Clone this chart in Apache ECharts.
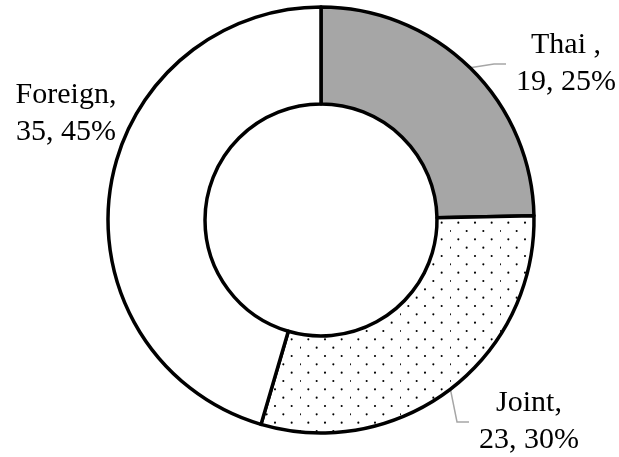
<!DOCTYPE html>
<html>
<head>
<meta charset="utf-8">
<script src="https://cdn.jsdelivr.net/npm/echarts@6/dist/echarts.min.js"></script>
<style>
  html, body { margin: 0; padding: 0; background: #ffffff; }
  #chart { width: 619px; height: 457px; }
</style>
</head>
<body>
<div id="chart"></div>
<script>
// Ownership groups and their counts
const categories = ['Thai ', 'Joint', 'Foreign'];
const counts = [19, 23, 35];

// Slice fills: solid grey, dotted, plain white
const sliceFills = ['#a6a6a6', 'dots', '#ffffff'];

// Where each label block sits (centre x, middle y)
const labelAnchors = [[561, 64], [524, 422], [61, 114]];
// Foreign's label sits next to its slice without a leader line
const showLeader = [true, true, false];

// Staggered dot texture for the Joint slice
function makeDotPattern() {
  const step = 50 / 3;
  const c = document.createElement('canvas');
  c.width = 50; c.height = 50;
  const ctx = c.getContext('2d');
  ctx.fillStyle = '#ffffff';
  ctx.fillRect(0, 0, 50, 50);
  ctx.fillStyle = '#000000';
  for (let i = 0; i < 3; i++) {
    for (let j = 0; j < 3; j++) {
      ctx.beginPath();
      ctx.arc(step / 2 + i * step, 6 + j * step, 1.05, 0, Math.PI * 2);
      ctx.fill();
      ctx.beginPath();
      ctx.arc(i * step, 6 + step / 2 + j * step, 1.05, 0, Math.PI * 2);
      ctx.fill();
    }
  }
  return { image: c, repeat: 'repeat' };
}
const dotPattern = makeDotPattern();

const pieData = categories.map((name, i) => ({
  name: name,
  value: counts[i],
  itemStyle: { color: sliceFills[i] === 'dots' ? dotPattern : sliceFills[i] },
  labelLine: { show: showLeader[i] }
}));

const chart = echarts.init(document.getElementById('chart'), null, { renderer: 'canvas' });
chart.setOption({
  animation: false,
  backgroundColor: '#ffffff',
  series: [{
    type: 'pie',
    center: [321, 220],
    radius: [116, 213],
    startAngle: 90,
    clockwise: true,
    avoidLabelOverlap: false,
    silent: true,
    emphasis: { disabled: true },
    itemStyle: { borderColor: '#000000', borderWidth: 3.5 },
    label: {
      show: true,
      position: 'outside',
      fontFamily: '"Liberation Serif", "Times New Roman", serif',
      fontSize: 30,
      lineHeight: 37,
      color: '#000000',
      align: 'center',
      padding: [0, 0, 0, 10],
      backgroundColor: 'rgba(255,255,255,0)',
      formatter: p => p.name + ',\n' + p.value + ', ' + Math.round(p.percent) + '%'
    },
    labelLine: {
      show: true,
      length: 10,
      length2: 12,
      smooth: false,
      lineStyle: { color: '#a6a6a6', width: 1.5 }
    },
    labelLayout: p => ({
      x: labelAnchors[p.dataIndex][0],
      y: labelAnchors[p.dataIndex][1],
      align: 'center',
      verticalAlign: 'middle'
    }),
    data: pieData
  }]
});
</script>
</body>
</html>
